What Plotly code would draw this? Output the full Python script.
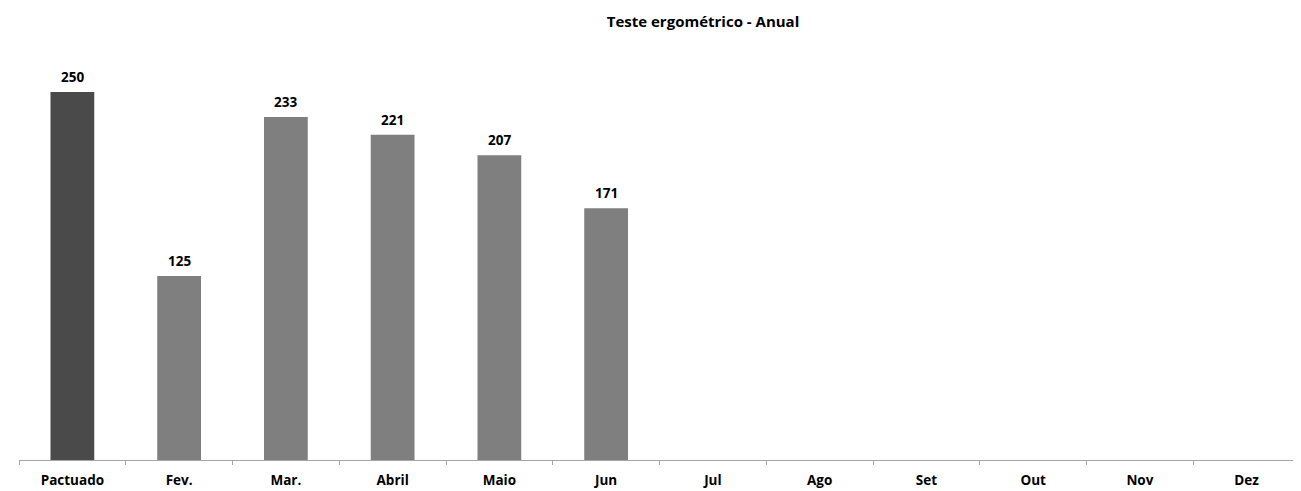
import plotly.graph_objects as go

meses = ['Pactuado', 'Fev.', 'Mar.', 'Abril', 'Maio', 'Jun', 'Jul', 'Ago', 'Set', 'Out', 'Nov', 'Dez']
valores = [250, 125, 233, 221, 207, 171, None, None, None, None, None, None]
cores = ['#4a4a4a'] + ['#7f7f7f'] * 11

fig = go.Figure()
fig.add_trace(go.Bar(
    x=meses, y=valores, marker=dict(color=cores, line=dict(width=0)),
    width=0.41, cliponaxis=False, hoverinfo='x+y',
))

# rótulos de valor acima das barras
for m, v in zip(meses, valores):
    if v is None:
        continue
    fig.add_annotation(x=m, y=v, text=f'<b>{v}</b>', showarrow=False,
                       yanchor='bottom', yshift=4,
                       font=dict(family='Open Sans', size=13.5, color='black'))

# o body da página tem margem de 8px, compensado nas margens
fig.update_layout(
    width=1301, height=491,
    plot_bgcolor='white', paper_bgcolor='white',
    margin=dict(l=11, r=9, t=52, b=39),
    showlegend=False,
    title=dict(text='<b>Teste ergométrico - Anual</b>', x=695 / 1301, xanchor='center',
               y=1 - 14 / 491, yanchor='middle',
               font=dict(family='Open Sans', size=15, color='black')),
    font=dict(family='Open Sans', size=13.5, color='black'),
)
fig.update_xaxes(
    showline=True, linecolor='#a6a6a6', linewidth=1,
    ticks='outside', tickson='boundaries', ticklen=4, tickcolor='#a6a6a6',
    tickfont=dict(family='Open Sans', size=13.5, color='black', weight='bold'),
    ticklabelstandoff=8,
    showgrid=False, automargin=False,
)
fig.update_yaxes(visible=False, range=[0, 271.7], automargin=False)

fig.write_html('out.html')
